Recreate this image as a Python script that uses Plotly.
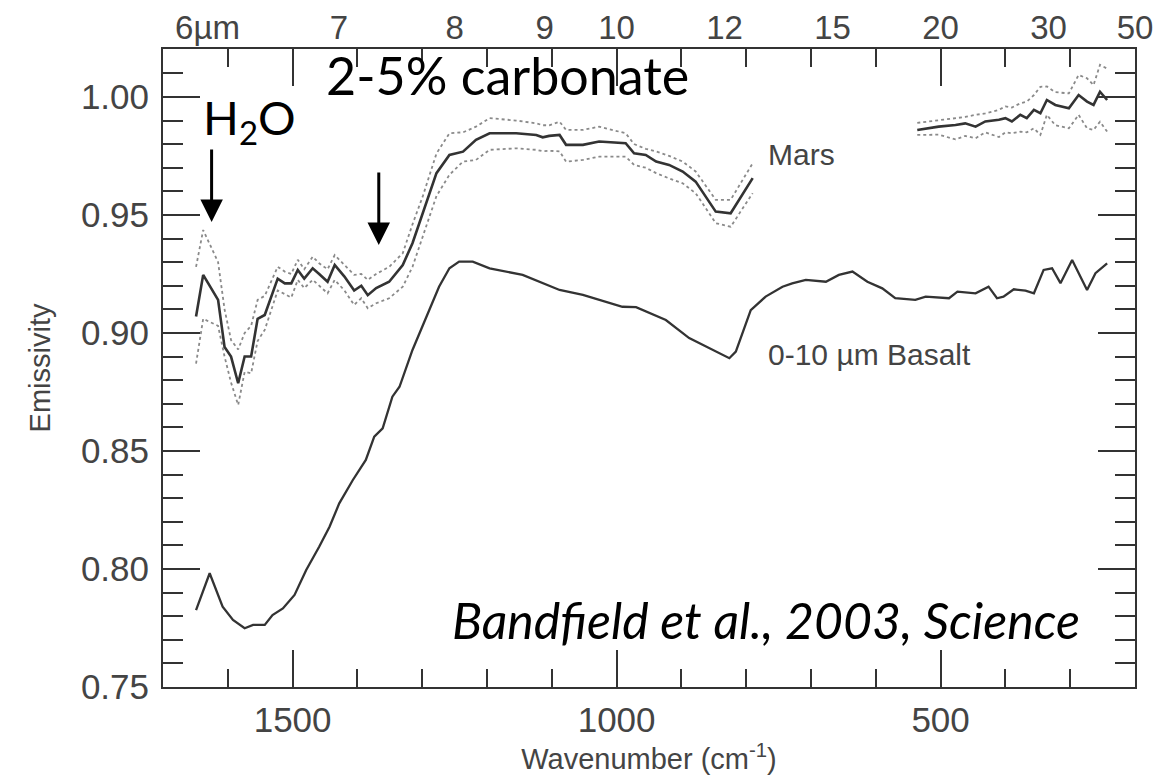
import plotly.graph_objects as go

# ---------------- data ----------------
wn_mars_a = [1649, 1638, 1615, 1605, 1595, 1584, 1574, 1564, 1554, 1543, 1523, 1512, 1502, 1492,
             1482, 1469, 1459, 1446, 1435, 1420, 1405, 1394, 1384, 1371, 1351, 1330, 1315, 1299,
             1278, 1258, 1237, 1217, 1196, 1155, 1124, 1114, 1104, 1088, 1078, 1052, 1027, 986,
             973, 955, 939, 919, 898, 878, 847, 824, 790]
mars_a = [0.907, 0.9246, 0.914, 0.894, 0.890, 0.8787, 0.890, 0.890, 0.906, 0.9076, 0.923, 0.921,
          0.921, 0.9267, 0.923, 0.9274, 0.925, 0.9217, 0.9288, 0.9239, 0.918, 0.920, 0.916, 0.919,
          0.9217, 0.9288, 0.938, 0.9507, 0.9677, 0.9754, 0.9768, 0.9818, 0.9846, 0.9846, 0.9839,
          0.9829, 0.9835, 0.9839, 0.9797, 0.9797, 0.9811, 0.9804, 0.9761, 0.9754, 0.9726, 0.9712,
          0.9684, 0.9641, 0.9514, 0.9507, 0.9656]
mars_a_hi = [0.928, 0.9436, 0.930, 0.910, 0.897, 0.893, 0.900, 0.903, 0.914, 0.9157, 0.928, 0.926,
             0.925, 0.931, 0.927, 0.9323, 0.9295, 0.927, 0.933, 0.929, 0.9246, 0.925, 0.9225, 0.925,
             0.928, 0.9338, 0.946, 0.958, 0.976, 0.9846, 0.985, 0.9874, 0.991, 0.990, 0.9888,
             0.988, 0.988, 0.9895, 0.986, 0.986, 0.9874, 0.9846, 0.980, 0.978, 0.9769, 0.975,
             0.9726, 0.9684, 0.9564, 0.9564, 0.9719]
mars_a_lo = [0.887, 0.906, 0.903, 0.890, 0.879, 0.8695, 0.8835, 0.8829, 0.8966, 0.9013, 0.918, 0.9166,
             0.915, 0.9225, 0.919, 0.9225, 0.920, 0.9168, 0.9225, 0.918, 0.9119, 0.9147, 0.9105, 0.9126,
             0.9147, 0.9196, 0.928, 0.9408, 0.958, 0.967, 0.9726, 0.9733, 0.9776, 0.9782, 0.9776,
             0.977, 0.9772, 0.9769, 0.9726, 0.9733, 0.9747, 0.9747, 0.9712, 0.970, 0.9677, 0.9655,
             0.9634, 0.9592, 0.9465, 0.945, 0.9592]

wn_mars_b = [536, 503, 477, 462, 446, 431, 410, 400, 390, 377, 367, 356, 346, 336, 323, 302, 287,
             274, 264, 254, 243]
mars_b = [0.986, 0.9874, 0.9881, 0.9888, 0.9874, 0.9896, 0.9903, 0.991, 0.9896, 0.9924, 0.991,
          0.9945, 0.9931, 0.9987, 0.9966, 0.9952, 1.0008, 0.998, 0.9966, 1.0022, 0.9987]
mars_b_hi = [0.989, 0.990, 0.991, 0.9915, 0.9924, 0.993, 0.9945, 0.996, 0.9955, 0.9973, 0.998,
             1.0008, 1.0043, 1.0044, 1.002, 1.0015, 1.0093, 1.0079, 1.005, 1.0136, 1.012]
mars_b_lo = [0.9839, 0.984, 0.982, 0.9835, 0.9825, 0.985, 0.983, 0.985, 0.9846, 0.9853, 0.985,
             0.9867, 0.9839, 0.9924, 0.988, 0.9867, 0.9924, 0.9867, 0.986, 0.9895, 0.9853]

wn_basalt = [1649, 1628, 1608, 1592, 1574, 1561, 1543, 1531, 1515, 1497, 1479, 1459, 1443, 1428,
             1407, 1387, 1374, 1361, 1346, 1335, 1315, 1294, 1274, 1258, 1243, 1222, 1196, 1145,
             1088, 1052, 991, 970, 924, 888, 852, 826, 816, 793, 770, 744, 729, 708, 677, 657,
             636, 613, 590, 570, 539, 523, 487, 474, 446, 426, 413, 403, 387, 369, 356, 341, 328,
             315, 297, 274, 261, 243]
basalt = [0.7826, 0.7982, 0.784, 0.7784, 0.7749, 0.7763, 0.7763, 0.7805, 0.7833, 0.789, 0.7996,
          0.8094, 0.8179, 0.8278, 0.8377, 0.8462, 0.8561, 0.8596, 0.873, 0.8772, 0.8928, 0.9069,
          0.9196, 0.9274, 0.9302, 0.9302, 0.9274, 0.9246, 0.9182, 0.9161, 0.9111, 0.9109, 0.9055,
          0.8978, 0.8928, 0.8893, 0.8921, 0.9097, 0.9154, 0.9196, 0.921, 0.9225, 0.9217, 0.9246,
          0.926, 0.9217, 0.9189, 0.9147, 0.914, 0.9154, 0.9147, 0.9175, 0.9168, 0.9196, 0.9147,
          0.9154, 0.9185, 0.9179, 0.9168, 0.9267, 0.9274, 0.9211, 0.9309, 0.9182, 0.9253, 0.9295]

wavelength_um = [6, 7, 8, 9, 10, 12, 15, 20, 30, 50]
wavelength_labels = ["\u00a0\u00a0\u00a0\u00a0\u00a06\u00b5m", "7", "8", "9", "10", "12", "15", "20", "30", "50"]

# ---------------- styles ----------------
INK = "#333333"
TXT = "#444444"
DOT = "#8a8a8a"
FONT = "Liberation Sans, Arial, sans-serif"
ANN_FONT = "Lato, Carlito, sans-serif"

fig = go.Figure()

for wn, lo, hi in [(wn_mars_a, mars_a_lo, mars_a_hi), (wn_mars_b, mars_b_lo, mars_b_hi)]:
    for band in (hi, lo):
        fig.add_trace(go.Scatter(x=wn, y=band, mode="lines",
                                 line=dict(color=DOT, width=1.8, dash="dot"),
                                 showlegend=False, hoverinfo="skip"))

for wn, mid in [(wn_mars_a, mars_a), (wn_mars_b, mars_b)]:
    fig.add_trace(go.Scatter(x=wn, y=mid, mode="lines",
                             line=dict(color=INK, width=2.6), showlegend=False))

fig.add_trace(go.Scatter(x=wn_basalt, y=basalt, mode="lines",
                         line=dict(color=INK, width=2.3), showlegend=False))

# invisible trace to activate the top (wavelength) axis
fig.add_trace(go.Scatter(x=[10000 / w for w in wavelength_um], y=[None] * len(wavelength_um),
                         xaxis="x2", mode="lines", showlegend=False, hoverinfo="skip"))

fig.update_layout(
    width=1165, height=779,
    margin=dict(l=163, r=30, t=49, b=92),
    paper_bgcolor="white", plot_bgcolor="white",
    font=dict(family=FONT, color=TXT),
    xaxis=dict(range=[1700, 200], autorange=False, automargin=False, showgrid=False, zeroline=False,
               showline=True, linecolor=INK, linewidth=2, mirror="ticks",
               ticks="inside", tickmode="linear", tick0=0, dtick=500, ticklen=37,
               tickwidth=2, tickcolor=INK,
               minor=dict(ticks="inside", dtick=100, tick0=0, ticklen=18, tickwidth=2,
                          tickcolor=INK, showgrid=False),
               tickfont=dict(size=35, color=TXT), ticklabelstandoff=1,
               title=dict(text="Wavenumber (cm<sup>-1</sup>)", font=dict(size=29, color=TXT),
                          standoff=2)),
    xaxis2=dict(range=[1700, 200], autorange=False, automargin=False, overlaying="x", side="top",
                showgrid=False, zeroline=False, showline=False, ticks="",
                tickmode="array", tickvals=[10000 / w for w in wavelength_um],
                ticktext=wavelength_labels, tickfont=dict(size=33, color=TXT),
                ticklabelstandoff=2),
    yaxis=dict(range=[0.75, 1.0203], autorange=False, automargin=False, showgrid=False, zeroline=False,
               showline=True, linecolor=INK, linewidth=2, mirror="ticks",
               ticks="inside", tickmode="linear", tick0=0.75, dtick=0.05, ticklen=37,
               tickwidth=2, tickcolor=INK, tickformat=".2f",
               minor=dict(ticks="inside", dtick=0.01, tick0=0.75, ticklen=20, tickwidth=2,
                          tickcolor=INK, showgrid=False),
               tickfont=dict(size=35, color=TXT), ticklabelstandoff=5,
               title=dict(text="Emissivity", font=dict(size=29, color=TXT), standoff=22)),
)

# series labels
fig.add_annotation(x=769, y=0.9754, text="Mars", showarrow=False, xanchor="left",
                   font=dict(size=30, color=TXT, family=FONT))
fig.add_annotation(x=769, y=0.8907, text="0-10 \u00b5m Basalt", showarrow=False, xanchor="left",
                   font=dict(size=30, color=TXT, family=FONT))

# slide annotations
fig.add_annotation(x=1566, y=0.990, text="H<sub>2</sub>O", showarrow=False,
                   font=dict(size=47, color="black", family=ANN_FONT))
fig.add_annotation(x=1168, y=1.0093, text="2-5% carbonate", showarrow=False,
                   font=dict(size=52, color="black", family=ANN_FONT))
fig.add_annotation(x=769, y=0.7784, text="<i>Bandfield et al., 2003, Science</i>", showarrow=False,
                   font=dict(size=50, color="black", family=ANN_FONT))

# arrows
for xa, ya in [(1625, 0.947), (1367, 0.9373)]:
    fig.add_annotation(x=xa, y=ya, ax=0, ay=-74, text="", showarrow=True,
                       arrowhead=2, arrowsize=1.5, arrowwidth=3, arrowcolor="black",
                       standoff=0)

fig.write_html("out.html")
